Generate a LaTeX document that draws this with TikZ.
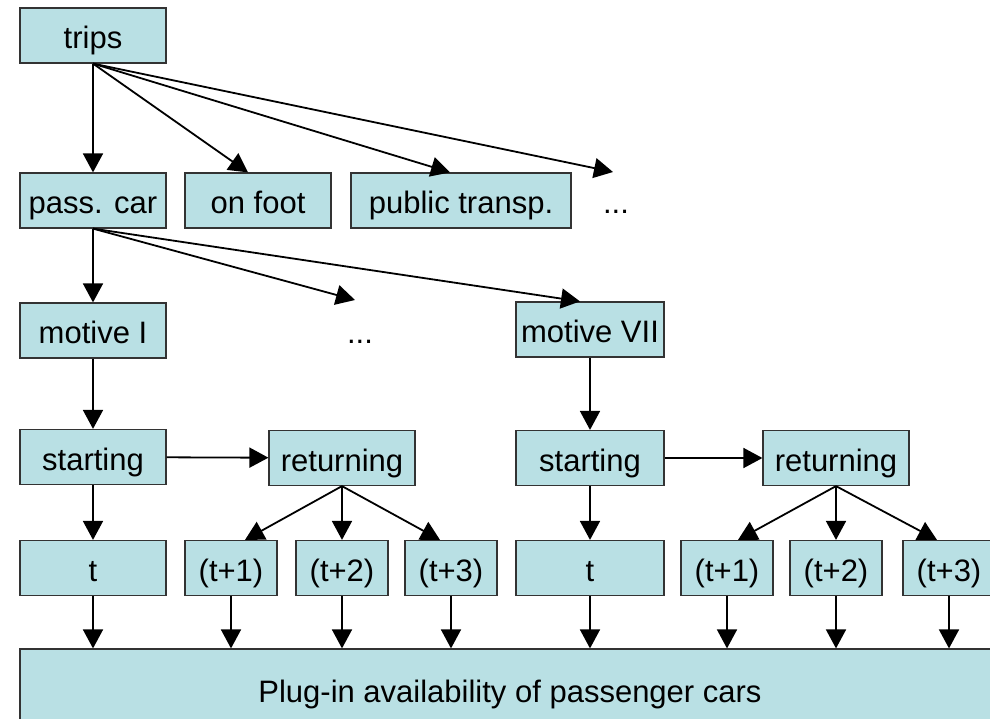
\documentclass[tikz,border=0pt]{standalone}
\usepackage{fontspec}
\setmainfont{Liberation Sans}
\usepackage{tikz}
\usetikzlibrary{
	positioning,
	arrows.meta
}
\definecolor{boxfill}{RGB}{185,224,228}

\begin{document}
\begin{tikzpicture}[x=1pt,y=-1pt,
	box/.style={draw=black!80,line width=1.2pt,fill=boxfill,inner sep=0pt,
		minimum width=146pt,minimum height=55pt,
		text height=30pt,text depth=4pt,font=\fontsize{31}{36}\selectfont},
	small/.style={box,minimum width=92pt},
	dots/.style={inner sep=0pt,text height=30pt,text depth=4pt,font=\fontsize{31}{36}\selectfont},
	link/.style={line width=1.8pt,-{Triangle[length=19pt,width=20pt]}}
]
	\useasboundingbox (0,0) rectangle (990,718);

	% modes
	\node [box]                      (trips)    at (93,35.5)  {trips};
	\node [box]                      (car)      at (93,200.5) {pass. car};
	\node [box]                      (foot)     at (258,200.5) {on foot};
	\node [box,minimum width=220pt]  (public)   at (461,200.5) {public transp.};
	\node [dots]                     (modes)    at (616,200.5) {...};
	\coordinate                      (modesEnd) at (613,172);

	% motives
	\node [box]                      (motI)       at (93,330.5)  {motive I};
	\node [dots]                     (motives)    at (360,330.5) {...};
	\coordinate                      (motivesEnd) at (355,300);
	\node [box,minimum width=148pt]  (motVII)     at (590,329.5) {motive VII};

	% starting / returning
	\node [box]                      (startI)   at (93,457)  {starting};
	\node [box]                      (retI)     at (342,458) {returning};
	\node [box,minimum width=148pt]  (startVII) at (590,458) {starting};
	\node [box]                      (retVII)   at (836,458) {returning};

	% time slots
	\node [box]                      (tI)     at (93,568)  {t};
	\node [small]                    (tIa)    at (231,568) {(t+1)};
	\node [small]                    (tIb)    at (342,568) {(t+2)};
	\node [small]                    (tIc)    at (451,568) {(t+3)};
	\node [box,minimum width=148pt]  (tVII)   at (590,568) {t};
	\node [small]                    (tVIIa)  at (727,568) {(t+1)};
	\node [small]                    (tVIIb)  at (836,568) {(t+2)};
	\node [small]                    (tVIIc)  at (949,568) {(t+3)};

	\node [box,minimum width=980pt,minimum height=80pt] (plug) at (510,689)
		{Plug-in availability of passenger cars};

	\path [link]
		(trips.south) edge (car.north)
		(trips.south) edge ([xshift=-10pt]foot.north)
		(trips.south) edge ([xshift=-11pt]public.north)
		(trips.south) edge (modesEnd)
		(car.south)   edge (motI.north)
		(car.south)   edge (motivesEnd)
		(car.south)   edge ([xshift=-10pt]motVII.north)
		(motI)        edge (startI)
		(motVII)      edge (startVII)
		(startI)      edge (retI)
		(startVII)    edge (retVII)
		(startI)      edge (tI)
		(startVII)    edge (tVII)
		(retI.south)  edge ([xshift=14pt]tIa.north)
		(retI.south)  edge (tIb.north)
		(retI.south)  edge ([xshift=-11pt]tIc.north)
		(retVII.south) edge ([xshift=11pt]tVIIa.north)
		(retVII.south) edge (tVIIb.north)
		(retVII.south) edge ([xshift=-12pt]tVIIc.north)
	;
	\foreach \slot in {tI,tIa,tIb,tIc,tVII,tVIIa,tVIIb,tVIIc}
		\draw [link] (\slot.south) -- (\slot.south |- plug.north);
\end{tikzpicture}
\end{document}
